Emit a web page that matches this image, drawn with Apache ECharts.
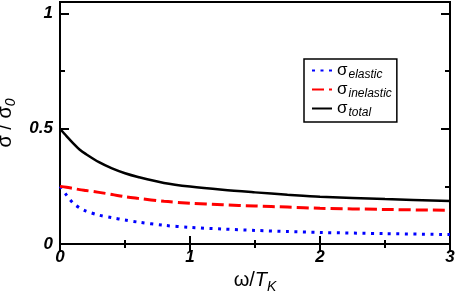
<!DOCTYPE html>
<html>
<head>
<meta charset="utf-8">
<script src="https://cdn.jsdelivr.net/npm/echarts@6/dist/echarts.min.js"></script>
<style>html,body{margin:0;padding:0;background:#fff}#c{width:457px;height:292px}</style>
</head>
<body>
<div id="c"></div>
<script>
const omega     = [0, 0.05, 0.1, 0.15, 0.2, 0.3, 0.4, 0.5, 0.6, 0.8, 1.0, 1.25, 1.5, 1.75, 2.0, 2.5, 3.0];
const elastic   = [0.25, 0.212, 0.178, 0.157, 0.143, 0.125, 0.114, 0.104, 0.095, 0.081, 0.072, 0.065, 0.059, 0.054, 0.050, 0.045, 0.041];
const inelastic = [0.25, 0.246, 0.241, 0.236, 0.232, 0.224, 0.215, 0.205, 0.198, 0.185, 0.177, 0.170, 0.165, 0.160, 0.155, 0.150, 0.146];
const total     = [0.5, 0.468, 0.438, 0.41, 0.39, 0.355, 0.328, 0.307, 0.291, 0.265, 0.249, 0.235, 0.224, 0.214, 0.205, 0.195, 0.187];
const seriesNames = ['elastic', 'inelastic', 'total'];

const pts = arr => omega.map((x, i) => [x, arr[i]]);
const FONT = 'Liberation Sans, Arial, Helvetica, sans-serif';
const tickStyle = { color: '#000', width: 2 };

function xAx(pos, labels) {
  return {
    type: 'value', position: pos, min: 0, max: 3, interval: 1,
    axisLine: { show: false },
    axisTick: { show: true, inside: true, length: 8, lineStyle: tickStyle },
    minorTick: { show: true, splitNumber: 2, length: 4, lineStyle: tickStyle },
    splitLine: { show: false }, minorSplitLine: { show: false },
    axisLabel: labels ? { show: true, margin: 5, fontFamily: FONT, fontWeight: 'bold', fontStyle: 'italic', fontSize: 17, color: '#000' } : { show: false }
  };
}
function yAx(pos, interval, len, labels) {
  return {
    type: 'value', position: pos, min: 0, max: 1.05, interval: interval,
    axisLine: { show: false },
    axisTick: { show: true, inside: true, length: len, lineStyle: tickStyle },
    splitLine: { show: false },
    axisLabel: labels ? { show: true, showMaxLabel: false, margin: 7, fontFamily: FONT, fontWeight: 'bold', fontStyle: 'italic', fontSize: 17, color: '#000' } : { show: false }
  };
}

const xBottom = xAx('bottom', true);
xBottom.name = '{a|ω/}{t|T}{s|K}';
xBottom.nameLocation = 'middle';
xBottom.nameGap = 11;
xBottom.nameTextStyle = {
  fontFamily: FONT, color: '#000',
  rich: {
    a: { fontFamily: FONT, fontSize: 20, color: '#000' },
    t: { fontFamily: FONT, fontSize: 20, fontStyle: 'italic', color: '#000' },
    s: { fontFamily: FONT, fontSize: 14, fontStyle: 'italic', color: '#000', padding: [12, 0, 0, 0] }
  }
};

const yLeft = yAx('left', 0.5, 9, true);
yLeft.name = '{a|σ / σ}{s|0}';
yLeft.nameLocation = 'middle';
yLeft.nameGap = 33;
yLeft.nameTextStyle = {
  fontFamily: FONT, color: '#000',
  rich: {
    a: { fontFamily: FONT, fontSize: 20, color: '#000' },
    s: { fontFamily: FONT, fontSize: 14, fontStyle: 'italic', color: '#000', padding: [12, 0, 0, 0] }
  }
};

const chart = echarts.init(document.getElementById('c'), null, { renderer: 'canvas' });
chart.setOption({
  animation: false,
  backgroundColor: '#fff',
  grid: { left: 60, right: 7, top: 2, bottom: 48, containLabel: false, outerBoundsMode: 'none',
          show: true, borderColor: '#000', borderWidth: 2, backgroundColor: 'transparent' },
  xAxis: [xBottom, xAx('top', false)],
  yAxis: [yLeft, yAx('left', 0.25, 5, false), yAx('right', 0.5, 9, false), yAx('right', 0.25, 5, false)],
  legend: {
    orient: 'vertical', left: 304, top: 59,
    padding: [3, 5, 3, 7], itemGap: 0, itemWidth: 20, itemHeight: 14,
    borderColor: '#000', borderWidth: 1.5, backgroundColor: '#fff',
    itemStyle: { opacity: 0 },
    data: seriesNames,
    formatter: n => '{s|σ}{b|' + n + '}',
    textStyle: {
      fontFamily: FONT, color: '#000',
      rich: {
        s: { fontFamily: FONT, fontSize: 17, color: '#000' },
        b: { fontFamily: FONT, fontSize: 12, fontStyle: 'italic', color: '#000', padding: [9, 0, 0, 1] }
      }
    }
  },
  series: [
    { name: 'elastic', type: 'line', data: pts(elastic), symbol: 'none', smooth: 0.3,
      lineStyle: { color: '#0000ff', width: 3, type: [3, 5.5], cap: 'butt' }, itemStyle: { color: '#0000ff' } },
    { name: 'inelastic', type: 'line', data: pts(inelastic), symbol: 'none', smooth: 0.3,
      lineStyle: { color: '#ff0000', width: 3, type: [12, 5], cap: 'butt' }, itemStyle: { color: '#ff0000' } },
    { name: 'total', type: 'line', data: pts(total), symbol: 'none', smooth: 0.3,
      lineStyle: { color: '#000', width: 2.5 }, itemStyle: { color: '#000' } }
  ]
});
</script>
</body>
</html>
